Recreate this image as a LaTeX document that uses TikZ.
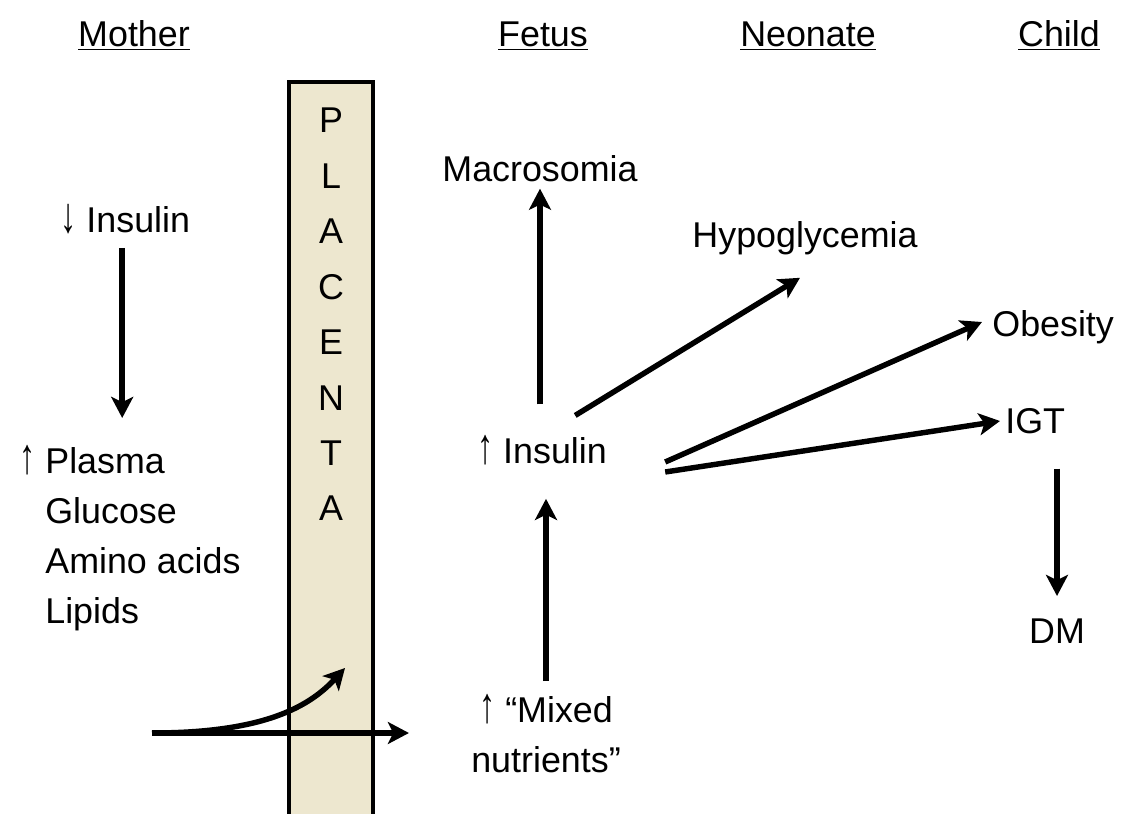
\documentclass[tikz,border=0pt]{standalone}
\usepackage{graphicx}
\usepackage{fontspec}
\setmainfont{Liberation Sans}
\usetikzlibrary{arrows.meta}
\definecolor{placbeige}{RGB}{237,231,207}
\newcommand{\risearrow}{\scalebox{0.9}[1.4]{↑}}
\newcommand{\fallarrow}{\scalebox{0.9}[1.4]{↓}}

\begin{document}
\begin{tikzpicture}[>={Stealth[length=12pt,width=12.5pt,inset=3pt]}, x=0.02cm, y=-0.02cm]
        \tikzset{lbl/.style={inner sep=0pt, font=\fontsize{20.4}{28.5}\selectfont}, flow/.style={->, line width=3.1pt}, placenta/.style={draw, line width=2.4pt, fill=placbeige, minimum width=1.68cm, minimum height=14.96cm, inner sep=0pt}}
        \useasboundingbox (0,0) rectangle (1125,814);
        \node[placenta] (plac) at (331,456) {};
        \foreach \l [count=\i] in {P,L,A,C,E,N,T,A} {\node[lbl, anchor=base] (pl\i) at (331,{133+55.4*(\i-1)}) {\l};}
        \foreach \n/\x/\t in {mom/134/Mother, fet/543/Fetus, neo/808/Neonate, chi/1059/Child} {\node[lbl, anchor=base] (\n) at (\x,47) {\underline{\t}};}
        \node[lbl, anchor=base west] (insm) at (60,233) {\fallarrow\ Insulin};
        \node[lbl, anchor=north west, align=left] (plas) at (45,445) {\llap{\risearrow\ }Plasma\\Glucose\\Amino acids\\Lipids};
        \node[lbl, anchor=base] (macro) at (540,182) {Macrosomia};
        \node[lbl, anchor=base] (hypo) at (805,247) {Hypoglycemia};
        \node[lbl, anchor=base west] (obes) at (992,336) {Obesity};
        \node[lbl, anchor=base west] (igt) at (1005,433) {IGT};
        \node[lbl, anchor=base] (dm) at (1057,643) {DM};
        \node[lbl, anchor=base] (insf) at (542,463) {\risearrow\ Insulin};
        \node[lbl, anchor=north, align=center] (mix) at (546,694) {\risearrow\ “Mixed\\nutrients”};
        \coordinate (src) at (152,733);
        \coordinate (cross) at (345,668);
        \draw[flow, shorten <=0.26cm, shorten >=0.54cm] ([xshift=-0.06cm]insm.south) -- ([xshift=-0.06cm]insm.south |- plas.north);
        \draw[flow, shorten <=0.6cm, shorten >=0.12cm] (macro.south |- insf.north) -- (macro.south);
        \draw[flow, shorten <=0.26cm, shorten >=0.68cm] (mix.north) -- (mix.north |- insf.south);
        \draw[flow] ([shift={(-32,-19)}]insf.north east) -- ([shift={(-5,23)}]hypo.south);
        \draw[flow] ([shift={(58,-1)}]insf.base east) -- ([shift={(-10,-14)}]obes.base west);
        \draw[flow] ([shift={(58,9)}]insf.base east) -- ([shift={(-5,-12)}]igt.base west);
        \draw[flow, shorten <=0.7cm, shorten >=0.44cm] (dm.north |- igt.south) -- (dm.north);
        \draw[flow, shorten >=1.24cm] (src) -- (src -| mix.west);
        \draw[flow] (src) .. controls (265,733) and (310,706) .. (cross);
\end{tikzpicture}
\end{document}
